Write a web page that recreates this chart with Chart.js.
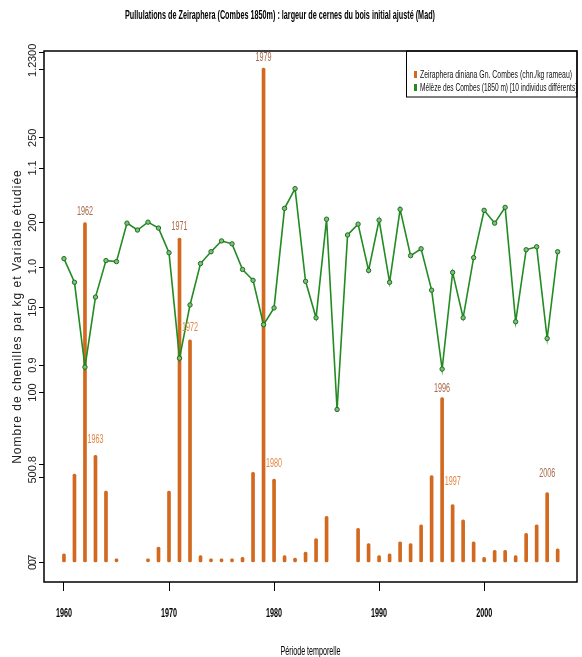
<!DOCTYPE html>
<html>
<head>
<meta charset="utf-8">
<script src="https://cdn.jsdelivr.net/npm/chart.js@4.4.1/dist/chart.umd.min.js"></script>
<style>
  html, body { margin: 0; padding: 0; background: #fff; }
  #wrap { width: 582px; height: 657px; }
</style>
</head>
<body>
<div id="wrap"><canvas id="chart" width="582" height="657"></canvas></div>
<script>
// Données
const annees = [1960, 1961, 1962, 1963, 1964, 1965, 1966, 1967, 1968, 1969,
                1970, 1971, 1972, 1973, 1974, 1975, 1976, 1977, 1978, 1979,
                1980, 1981, 1982, 1983, 1984, 1985, 1986, 1987, 1988, 1989,
                1990, 1991, 1992, 1993, 1994, 1995, 1996, 1997, 1998, 1999,
                2000, 2001, 2002, 2003, 2004, 2005, 2006, 2007];

// chenilles / kg rameau (null = pas de mesure)
const chenilles = [5, 52, 200, 63, 42, 2, null, null, 2, 9,
                   42, 191, 131, 4, 2, 2, 2, 3, 53, 291,
                   49, 4, 2.5, 6, 14, 27, null, null, 20, 11,
                   4, 5, 12, 11, 22, 51, 97, 34, 25, 12,
                   3, 7, 7, 4, 17, 22, 41, 8];

// largeur de cernes du bois initial (indice)
const cernes = [1.008, 0.984, 0.898, 0.969, 1.006, 1.005, 1.044, 1.037, 1.045, 1.039,
                1.014, 0.907, 0.961, 1.003, 1.015, 1.026, 1.023, 0.997, 0.986, 0.941,
                0.958, 1.059, 1.079, 0.985, 0.948, 1.048, 0.855, 1.032, 1.043, 0.996,
                1.047, 0.984, 1.058, 1.011, 1.018, 0.976, 0.896, 0.994, 0.948, 1.009,
                1.057, 1.044, 1.060, 0.944, 1.017, 1.020, 0.927, 1.015];

const ticksAnnees = [1960, 1970, 1980, 1990, 2000];
const ticksChenilles = [0, 50, 100, 150, 200, 250, 300];
const ticksCernes = [0.7, 0.8, 0.9, 1.0, 1.1, 1.2];
const anneesEtiquetees = [1962, 1963, 1971, 1972, 1979, 1980, 1996, 1997, 2006];
const legendeSeries = ['Zeiraphera diniana Gn. Combes (chn./kg rameau)',
                       'Mélèze des Combes (1850 m) [10 individus différents]'];

const ORANGE = '#D2691E';
const VERT = '#228B22';
const NARROW = '"Liberation Sans Narrow", "Arial Narrow", sans-serif';
const SANS = '"Liberation Sans", Arial, sans-serif';

// décalage (px) des étiquettes au-dessus des barres, et leur teinte
const etiquetteDecalage = [11, 16, 12, 12, 11, 16, 9, 23, 19];
const etiquetteCouleur = ['#a8694a', '#e38745', '#a8694a', '#e38745', '#a8694a',
                          '#e38745', '#a8694a', '#e38745', '#a8694a'];

const decorPlugin = {
    id: 'decor',
    afterDraw(chart) {
        const ctx = chart.ctx;
        const area = chart.chartArea;
        const sx = chart.scales.x;
        const sc = chart.scales.yCount;
        const sr = chart.scales.yRing;
        ctx.save();

        // cadre du graphique
        ctx.strokeStyle = '#000';
        ctx.lineWidth = 1.5;
        ctx.strokeRect(area.left, area.top, area.right - area.left, area.bottom - area.top);

        // graduations de l'axe des cernes (même côté que les chenilles)
        ctx.lineWidth = 1;
        ticksCernes.forEach(v => {
            const y = Math.round(sr.getPixelForValue(v)) + 0.5;
            ctx.beginPath();
            ctx.moveTo(area.left - 5, y);
            ctx.lineTo(area.left, y);
            ctx.stroke();
        });

        // étiquettes verticales de l'axe Y (superposées)
        const texteVertical = (txt, x, y, maxW) => {
            ctx.save();
            ctx.translate(x, y);
            ctx.rotate(-Math.PI / 2);
            if (maxW) ctx.fillText(txt, 0, 0, maxW); else ctx.fillText(txt, 0, 0);
            ctx.restore();
        };
        ctx.fillStyle = '#222';
        ctx.font = '11px ' + SANS;
        ctx.textAlign = 'center';
        ctx.textBaseline = 'middle';
        ticksChenilles.forEach(v => texteVertical(String(v), 33, sc.getPixelForValue(v)));
        ticksCernes.forEach(v => texteVertical(v.toFixed(1), 33, sr.getPixelForValue(v)));

        // titre de l'axe Y
        ctx.font = '12px ' + SANS;
        ctx.letterSpacing = '1px';
        texteVertical('Nombre de chenilles par kg et Variable étudiée', 18,
                      (area.top + area.bottom) / 2, 318);
        ctx.letterSpacing = '0px';

        // étiquettes de l'axe X
        ctx.fillStyle = '#000';
        ctx.font = 'bold 13px ' + NARROW;
        ticksAnnees.forEach(v => ctx.fillText(String(v), sx.getPixelForValue(v), 613, 16));

        // titre de l'axe X
        ctx.font = '13px ' + NARROW;
        ctx.fillText('Période temporelle', (area.left + area.right) / 2, 651, 60);

        // titre principal
        ctx.font = 'bold 13px ' + NARROW;
        ctx.fillText('Pullulations de Zeiraphera (Combes 1850m) : largeur de cernes du bois initial ajusté (Mad)',
                     280, 15, 310);

        // années des pullulations
        ctx.font = '13px ' + NARROW;
        anneesEtiquetees.forEach((a, i) => {
            const val = chenilles[annees.indexOf(a)];
            const y = sc.getPixelForValue(val) - etiquetteDecalage[i];
            ctx.fillStyle = etiquetteCouleur[i];
            ctx.fillText(String(a), sx.getPixelForValue(a), y, 16);
        });

        // légende
        const lx = 406.5;
        ctx.strokeStyle = '#000';
        ctx.lineWidth = 1;
        ctx.strokeRect(lx, area.top, area.right - lx, 46);
        ctx.fillStyle = ORANGE;
        ctx.fillRect(414, 71, 3, 7);
        ctx.fillStyle = VERT;
        ctx.fillRect(414, 84, 3, 7);
        ctx.fillStyle = '#111';
        ctx.font = '11px ' + NARROW;
        ctx.textAlign = 'left';
        ctx.fillText(legendeSeries[0], 420, 74.5, 152);
        ctx.fillText(legendeSeries[1], 420, 87.5, 157);

        ctx.restore();
    }
};

new Chart(document.getElementById('chart'), {
    type: 'bar',
    data: {
        datasets: [
            {
                type: 'line',
                label: legendeSeries[1],
                data: annees.map((a, i) => ({ x: a, y: cernes[i] })),
                xAxisID: 'x',
                yAxisID: 'yRing',
                borderColor: VERT,
                borderWidth: 1.6,
                pointRadius: 2.2,
                pointBorderWidth: 1,
                pointBackgroundColor: '#7fbf7f',
                pointBorderColor: '#1b6e1b',
                tension: 0,
                order: 0
            },
            {
                type: 'bar',
                label: legendeSeries[0],
                data: annees.map((a, i) => ({ x: a, y: chenilles[i] })),
                xAxisID: 'x',
                yAxisID: 'yCount',
                backgroundColor: ORANGE,
                barThickness: 3,
                borderRadius: 1.5,
                borderSkipped: false,
                order: 1
            }
        ]
    },
    options: {
        responsive: false,
        animation: false,
        devicePixelRatio: 1,
        layout: { padding: { left: 0, top: 51, right: 4, bottom: 0 } },
        plugins: {
            legend: { display: false },
            tooltip: { enabled: false },
            title: { display: false }
        },
        scales: {
            x: {
                type: 'linear',
                min: 1958.1,
                max: 2008.84,
                offset: false,
                grid: { drawOnChartArea: false, offset: false, tickLength: 9, color: '#000' },
                border: { display: false },
                ticks: { display: false },
                afterBuildTicks: s => { s.ticks = ticksAnnees.map(v => ({ value: v })); },
                afterFit: s => { s.height = 75; }
            },
            yCount: {
                type: 'linear',
                position: 'left',
                min: -11.6,
                max: 301.1,
                grid: { drawOnChartArea: false, tickLength: 5, color: '#000' },
                border: { display: false },
                ticks: { display: false },
                afterBuildTicks: s => { s.ticks = ticksChenilles.map(v => ({ value: v })); },
                afterFit: s => { s.width = 44; }
            },
            yRing: {
                type: 'linear',
                position: 'left',
                display: false,
                min: 0.68,
                max: 1.2186
            }
        }
    },
    plugins: [decorPlugin]
});
</script>
</body>
</html>
